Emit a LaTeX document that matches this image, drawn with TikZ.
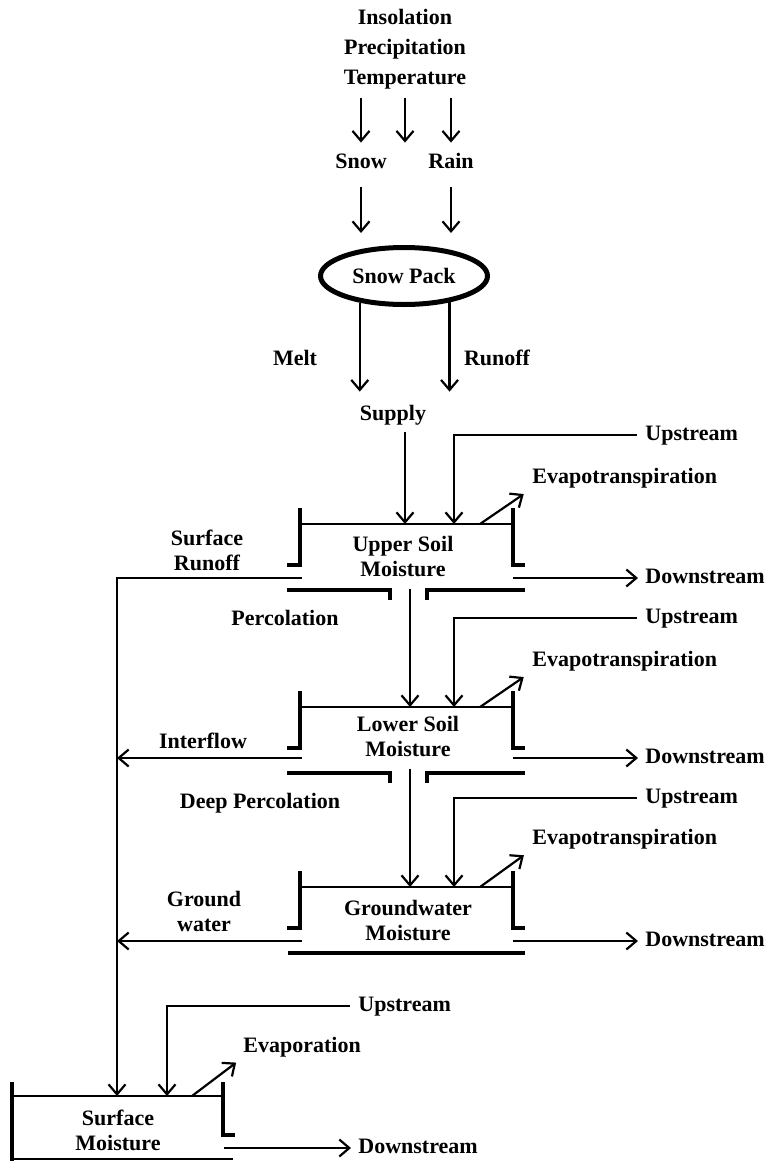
\documentclass[tikz,border=0pt]{standalone}
\usepackage{fontspec}
\setmainfont{Liberation Serif}
\usetikzlibrary{arrows.meta,shapes.geometric}

\begin{document}
\begin{tikzpicture}[x=0.5pt, y=-0.5pt,
		every node/.style={font=\fontsize{11}{12.5}\selectfont\bfseries, inner sep=0pt},
		etiqueta/.style={text height=7.5pt, text depth=2.5pt},
		almacen/.style={align=center},
		linea/.style={line width=1.1pt},
		pared/.style={line width=2.4pt},
		flecha/.style={line width=1.1pt, -{Straight Barb[length=5pt,width=8.5pt]}}]
		\useasboundingbox (0,0) rectangle (770,1161);
		
		% Entradas meteorológicas
		\node[etiqueta] (insol) at (405,20) {Insolation};
		\node[etiqueta] (precip) at (405,50) {Precipitation};
		\node[etiqueta] (temp) at (405,80) {Temperature};
		\node[etiqueta] (snow) at (361,163) {Snow};
		\node[etiqueta] (rain) at (451,163) {Rain};
		\draw[flecha, shorten <=4pt, shorten >=5pt] (temp.south -| snow) -- (snow.north);
		\draw[flecha, shorten <=4pt, shorten >=5pt] (temp.south) -- (temp.south |- snow.north);
		\draw[flecha, shorten <=4pt, shorten >=5pt] (temp.south -| rain) -- (rain.north);
		
		% Capa de nieve
		\node[ellipse, draw, line width=2.5pt, minimum width=83.5pt, minimum height=28.5pt] (pack) at (404,276) {Snow Pack};
		\draw[flecha, shorten <=7pt, shorten >=6pt] (snow.south) -- (snow.south |- pack.north);
		\draw[flecha, shorten <=7pt, shorten >=6pt] (rain.south) -- (rain.south |- pack.north);
		
		% Fusión y escorrentía hacia el aporte
		\node[etiqueta] (melt) at (295,360) {Melt};
		\node[etiqueta] (runoff) at (497,360) {Runoff};
		\node[etiqueta] (supply) at (393,415) {Supply};
		\draw[flecha, shorten >=6.5pt] (pack.211) -- (pack.211 |- supply.north);
		\draw[flecha, shorten >=6.5pt] (pack.330) -- (pack.330 |- supply.north);
		
		% Humedad del suelo superior
		\node[almacen] (usm) at (403,556) {Upper Soil\\Moisture};
		\coordinate (usm-in) at (405,524);
		\coordinate (usm-up) at (454,524);
		\coordinate (usm-et) at (480,524);
		\coordinate (usm-left) at (302,578);
		\coordinate (usm-right) at (513,578);
		\draw[linea] (300,524) -- (513,524);
		\draw[pared] (300,508) -- (300,565) -- (287,565);
		\draw[pared] (513,508) -- (513,565) -- (525,565);
		\draw[pared] (287,590) -- (390,590) -- (390,600);
		\draw[pared] (427,600) -- (427,590) -- (525,590);
		\node[etiqueta, anchor=west] (up1) at (645,435) {Upstream};
		\node[etiqueta, anchor=west] (et1) at (532,478) {Evapotranspiration};
		\node[etiqueta, anchor=west] (down1) at (645,578) {Downstream};
		\node[almacen] (srunoff) at (207,550) {Surface\\Runoff};
		\node[etiqueta] (perc) at (285,620) {Percolation};
		\draw[flecha, shorten <=3.5pt] (supply.south -| usm-in) -- (usm-in);
		\draw[flecha, shorten <=4pt] (up1.west) -| (usm-up);
		\draw[flecha, shorten >=5pt] (usm-et) -- (et1.south west);
		\draw[flecha, shorten >=3.5pt] (usm-right) -- (down1.west);
		
		% Humedad del suelo inferior
		\node[almacen] (lsm) at (408,736) {Lower Soil\\Moisture};
		\coordinate (lsm-in) at (410,707);
		\coordinate (lsm-up) at (454,707);
		\coordinate (lsm-et) at (480,707);
		\coordinate (lsm-left) at (302,758);
		\coordinate (lsm-right) at (513,758);
		\draw[linea] (300,707) -- (513,707);
		\draw[pared] (300,691) -- (300,748) -- (287,748);
		\draw[pared] (513,691) -- (513,748) -- (525,748);
		\draw[pared] (287,773) -- (390,773) -- (390,783);
		\draw[pared] (427,783) -- (427,773) -- (525,773);
		\node[etiqueta, anchor=west] (up2) at (645,618) {Upstream};
		\node[etiqueta, anchor=west] (et2) at (532,661) {Evapotranspiration};
		\node[etiqueta, anchor=west] (down2) at (645,758) {Downstream};
		\node[etiqueta] (interflow) at (203,743) {Interflow};
		\node[etiqueta] (deepperc) at (260,803) {Deep Percolation};
		\draw[flecha, shorten <=6pt] (usm.south -| lsm-in) -- (lsm-in);
		\draw[flecha, shorten <=4pt] (up2.west) -| (lsm-up);
		\draw[flecha, shorten >=5pt] (lsm-et) -- (et2.south west);
		\draw[flecha, shorten >=3.5pt] (lsm-right) -- (down2.west);
		
		% Humedad del agua subterránea
		\node[almacen] (gwm) at (408,920) {Groundwater\\Moisture};
		\coordinate (gwm-in) at (410,887);
		\coordinate (gwm-up) at (454,887);
		\coordinate (gwm-et) at (480,887);
		\coordinate (gwm-left) at (302,941);
		\coordinate (gwm-right) at (513,941);
		\draw[linea] (300,887) -- (513,887);
		\draw[pared] (300,871) -- (300,928) -- (287,928);
		\draw[pared] (513,871) -- (513,928) -- (525,928);
		\draw[pared] (288,953) -- (525,953);
		\node[etiqueta, anchor=west] (up3) at (645,798) {Upstream};
		\node[etiqueta, anchor=west] (et3) at (532,839) {Evapotranspiration};
		\node[etiqueta, anchor=west] (down3) at (645,941) {Downstream};
		\node[almacen] (gwater) at (204,911) {Ground\\water};
		\draw[flecha, shorten <=6pt] (lsm.south -| gwm-in) -- (gwm-in);
		\draw[flecha, shorten <=4pt] (up3.west) -| (gwm-up);
		\draw[flecha, shorten >=5pt] (gwm-et) -- (et3.south west);
		\draw[flecha, shorten >=3.5pt] (gwm-right) -- (down3.west);
		
		% Humedad superficial
		\node[almacen] (sm) at (118,1130) {Surface\\Moisture};
		\coordinate (sm-in) at (117,1096);
		\coordinate (sm-up) at (167,1096);
		\coordinate (sm-ev) at (192,1096);
		\coordinate (sm-right) at (224,1148);
		\draw[linea] (12,1096) -- (223,1096);
		\draw[pared] (12,1082) -- (12,1161);
		\draw[linea] (12,1159) -- (233,1159);
		\draw[pared] (223,1082) -- (223,1135) -- (235,1135);
		\node[etiqueta, anchor=west] (up4) at (358,1006) {Upstream};
		\node[etiqueta, anchor=west] (evap) at (243,1047) {Evaporation};
		\node[etiqueta, anchor=west] (down4) at (358,1148) {Downstream};
		\draw[flecha, shorten <=4pt] (up4.west) -| (sm-up);
		\draw[flecha, shorten >=4.3pt] (sm-ev) -- (evap.south west);
		\draw[flecha, shorten >=3.5pt] (sm-right) -- (down4.west);
		
		% Escorrentía superficial, flujo intermedio y agua subterránea
		\draw[flecha] (usm-left) -| (sm-in);
		\draw[flecha] (lsm-left) -- (lsm-left -| sm-in);
		\draw[flecha] (gwm-left) -- (gwm-left -| sm-in);
	\end{tikzpicture}
\end{document}
